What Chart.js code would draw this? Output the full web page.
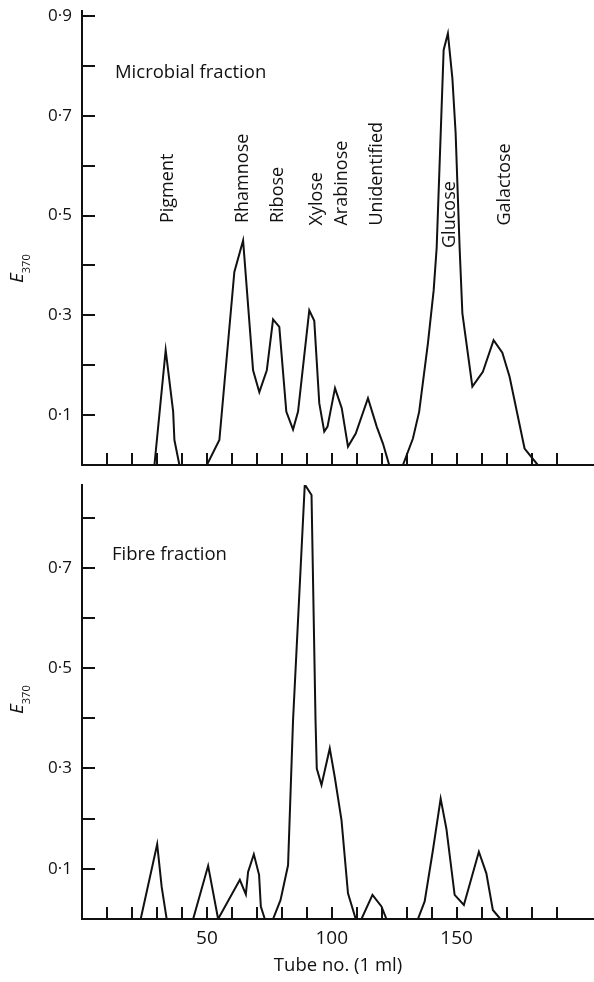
<!DOCTYPE html>
<html>
<head>
<meta charset="utf-8">
<script src="https://cdn.jsdelivr.net/npm/chart.js@4.4.1/dist/chart.umd.min.js"></script>
<style>
  html, body { margin: 0; padding: 0; background: #fff; }
  #wrap { position: relative; width: 594px; height: 982px; }
  canvas { position: absolute; left: 0; }
</style>
</head>
<body>
<div id="wrap">
  <canvas id="microbial" width="594" height="475" style="top:0"></canvas>
  <canvas id="fibre" width="594" height="507" style="top:475px"></canvas>
</div>
<script>
const INK = '#111';
const FONT = "'Open Sans', 'DejaVu Sans', sans-serif";

// Microbial fraction (top panel)
const microbialTube = [29, 33.5, 36.5, 37, 39, 50, 55, 61, 64.5, 68.5, 71, 74, 76.5, 79, 81.8, 84.5, 86.5,
  91, 93, 95, 97, 98.3, 101.3, 104, 106.5, 109.6, 114.5, 118, 120.5, 123, 128.5, 132.5, 135, 138.5,
  140.8, 142, 144.8, 146.5, 148.3, 149.6, 151.2, 152.3, 156.3, 160.5, 164.8, 168.3, 171.2, 177.2, 182.5];
const microbialE = [0, 0.23, 0.107, 0.05, 0, 0, 0.05, 0.387, 0.45, 0.19, 0.146, 0.19, 0.292, 0.277, 0.107, 0.071, 0.107,
  0.31, 0.289, 0.124, 0.067, 0.077, 0.154, 0.114, 0.037, 0.063, 0.134, 0.077, 0.043, 0, 0, 0.053, 0.107, 0.244,
  0.35, 0.435, 0.832, 0.865, 0.775, 0.665, 0.435, 0.304, 0.157, 0.187, 0.25, 0.225, 0.177, 0.033, 0];

// Fibre fraction (bottom panel)
const fibreTube = [23.5, 30.1, 31.9, 33.9, 44.5, 50.5, 54.5, 63.2, 65.6, 66.5, 68.8, 70.9, 71.6, 73.2,
  76.5, 79.5, 82.5, 84.5, 89.2, 91.9, 93.5, 94, 95.9, 99.2, 101.2, 103.9, 106.5, 109.6,
  111.9, 116.3, 119.9, 121.9, 134.5, 137.2, 140.5, 143.6, 145.9, 149.2, 152.9, 158.9, 161.9, 164.5, 167.5];
const fibreE = [0, 0.149, 0.064, 0, 0, 0.106, 0, 0.078, 0.049, 0.094, 0.129, 0.088, 0.025, 0,
  0, 0.038, 0.107, 0.396, 0.866, 0.845, 0.396, 0.3, 0.267, 0.34, 0.283, 0.197, 0.051, 0,
  0, 0.048, 0.025, 0, 0, 0.035, 0.137, 0.24, 0.18, 0.048, 0.028, 0.134, 0.091, 0.018, 0];

// peak names on the top panel: tube where the text sits, E where it starts
const peakNames = ['Pigment', 'Rhamnose', 'Ribose', 'Xylose', 'Arabinose', 'Unidentified', 'Glucose', 'Galactose'];
const peakTube = [36.4, 66.4, 80.4, 96, 106, 120, 149.2, 171.2];
const peakE = [0.485, 0.485, 0.485, 0.48, 0.48, 0.48, 0.435, 0.48];

const xLabels = [50, 100, 150];
const lastTick = 190;

const fmtE = v => {
  const d = Math.round(v * 10);
  return d % 2 === 1 ? '0\u00b7' + d : '';
};

const inkPlugin = {
  id: 'ink',
  afterDraw(chart, args, o) {
    const ctx = chart.ctx;
    const xs = chart.scales.x, ys = chart.scales.y;
    ctx.save();
    ctx.strokeStyle = INK;
    ctx.fillStyle = INK;
    ctx.lineWidth = 2;
    // inward tick marks
    ys.ticks.forEach(t => {
      if (t.value <= 0.001) return;
      const y = Math.round(ys.getPixelForValue(t.value));
      ctx.beginPath(); ctx.moveTo(ys.right, y); ctx.lineTo(ys.right + 13, y); ctx.stroke();
    });
    xs.ticks.forEach(t => {
      if (t.value <= 0 || t.value > lastTick) return;
      const x = Math.round(xs.getPixelForValue(t.value));
      ctx.beginPath(); ctx.moveTo(x, xs.top); ctx.lineTo(x, xs.top - 12); ctx.stroke();
    });
    // panel name
    ctx.font = '18.5px ' + FONT;
    ctx.textBaseline = 'alphabetic';
    ctx.textAlign = 'left';
    ctx.fillText(o.name, xs.getPixelForValue(o.nameAt[0]), ys.getPixelForValue(o.nameAt[1]));
    // rotated peak names
    (o.peaks || []).forEach((p, i) => {
      ctx.save();
      ctx.translate(xs.getPixelForValue(peakTube[i]), ys.getPixelForValue(peakE[i]));
      ctx.rotate(-Math.PI / 2);
      ctx.font = '18px ' + FONT;
      ctx.fillText(p, 0, 0);
      ctx.restore();
    });
    // E370 axis title
    ctx.save();
    ctx.translate(23, o.eY);
    ctx.rotate(-Math.PI / 2);
    ctx.font = 'italic 19px ' + FONT;
    ctx.fillText('E', 0, 0);
    const w = ctx.measureText('E').width;
    ctx.font = '11px ' + FONT;
    ctx.fillText('370', w, 7);
    ctx.restore();
    ctx.restore();
  }
};

function makeChart(id, tubes, values, cfg) {
  const points = tubes.map((t, i) => ({ x: t, y: values[i] }));
  return new Chart(document.getElementById(id), {
    type: 'line',
    data: {
      datasets: [{
        data: points,
        borderColor: INK,
        borderWidth: 2,
        pointRadius: 0,
        tension: 0,
        fill: false
      }]
    },
    options: {
      responsive: false,
      animation: false,
      layout: { padding: { top: cfg.padTop, left: 0, right: 0, bottom: 0 } },
      plugins: {
        legend: { display: false },
        tooltip: { enabled: false },
        ink: cfg.ink
      },
      scales: {
        x: {
          type: 'linear',
          min: 0,
          max: 205,
          grid: { display: false, drawTicks: false },
          border: { display: true, color: INK, width: 2 },
          ticks: {
            display: cfg.showX,
            stepSize: 10,
            includeBounds: false,
            autoSkip: false,
            maxRotation: 0,
            padding: 8,
            color: INK,
            font: { family: FONT, size: 19 },
            callback: v => xLabels.includes(v) ? String(v) : ''
          },
          title: {
            display: cfg.showX,
            text: 'Tube no. (1 ml)',
            color: INK,
            font: { family: FONT, size: 18.5 },
            padding: { top: 0, bottom: 5 }
          },
          afterFit: s => { s.height = cfg.xHeight; s.paddingLeft = 0; s.paddingRight = 0; }
        },
        y: {
          min: 0,
          max: cfg.yMax,
          grid: { display: false, drawTicks: false },
          border: { display: true, color: INK, width: 2 },
          ticks: {
            stepSize: 0.1,
            includeBounds: false,
            autoSkip: false,
            padding: 10,
            color: INK,
            font: { family: FONT, size: 17 },
            callback: fmtE
          },
          afterFit: s => { s.width = 82; s.paddingTop = 0; s.paddingBottom = 0; }
        }
      }
    },
    plugins: [inkPlugin]
  });
}

makeChart('microbial', microbialTube, microbialE, {
  padTop: 11, yMax: 0.91, xHeight: 10, showX: false,
  ink: { name: 'Microbial fraction', nameAt: [13.2, 0.776], peaks: peakNames, eY: 283 }
});

makeChart('fibre', fibreTube, fibreE, {
  padTop: 10, yMax: 0.865, xHeight: 63, showX: true,
  ink: { name: 'Fibre fraction', nameAt: [12, 0.715], peaks: [], eY: 239 }
});
</script>
</body>
</html>
